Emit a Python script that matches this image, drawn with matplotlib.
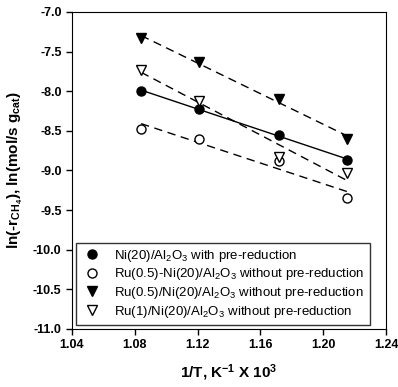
import numpy as np
import matplotlib.pyplot as plt
from matplotlib.lines import Line2D

plt.rcParams['font.family'] = ['Liberation Sans', 'DejaVu Sans']
plt.rcParams['mathtext.fontset'] = 'custom'
plt.rcParams['mathtext.rm'] = 'Liberation Sans'
plt.rcParams['mathtext.it'] = 'Liberation Sans'
plt.rcParams['mathtext.bf'] = 'Liberation Sans:bold'

inv_t = [1.084, 1.121, 1.172, 1.215]

ni_pre = [-8.00, -8.22, -8.55, -8.87]
ru05_ni_mix = [-8.48, -8.60, -8.88, -9.35]
ru05_ni = [-7.33, -7.63, -8.10, -8.60]
ru1_ni = [-7.73, -8.12, -8.83, -9.03]

labels = [
    "Ni(20)/Al$_2$O$_3$ with pre-reduction",
    "Ru(0.5)-Ni(20)/Al$_2$O$_3$ without pre-reduction",
    "Ru(0.5)/Ni(20)/Al$_2$O$_3$ without pre-reduction",
    "Ru(1)/Ni(20)/Al$_2$O$_3$ without pre-reduction",
]

series = [ni_pre, ru05_ni_mix, ru05_ni, ru1_ni]
markers = ['o', 'o', 'v', 'v']
fills = ['black', 'white', 'black', 'white']
styles = ['-', (0, (6, 4)), (0, (6, 4)), (0, (6, 4))]

fig = plt.figure(figsize=(3.98, 3.87), dpi=100)
ax = fig.add_axes([0.181, 0.150, 0.789, 0.819])

x = np.array(inv_t)
handles = []
for y, m, fc, ls, lab in zip(series, markers, fills, styles, labels):
    k, b = np.polyfit(x, y, 1)
    ax.plot(x, k * x + b, color='black', lw=1.0, linestyle=ls)
    ax.plot(x, y, linestyle='none', marker=m, markersize=6.5,
            markerfacecolor=fc, markeredgecolor='black', markeredgewidth=1.0)
    handles.append(Line2D([], [], linestyle='none', marker=m, markersize=6.5,
                          markerfacecolor=fc, markeredgecolor='black'))

ax.set_xlim(1.04, 1.24)
ax.set_ylim(-11.0, -7.0)
ax.set_xticks([1.04, 1.08, 1.12, 1.16, 1.20, 1.24])
ax.set_xticklabels(['1.04', '1.08', '1.12', '1.16', '1.20', '1.24'])
ax.set_yticks(np.arange(-11.0, -6.9, 0.5))
ax.set_yticklabels(['%.1f' % v for v in np.arange(-11.0, -6.9, 0.5)])
ax.tick_params(direction='out', length=4, width=1, labelsize=9)
for lbl in ax.get_xticklabels() + ax.get_yticklabels():
    lbl.set_fontweight('bold')

ax.set_xlabel('1/T, K$^{\\mathbf{-1}}$ X 10$^{\\mathbf{3}}$', fontsize=11, fontweight='bold', labelpad=8)
ax.set_ylabel('ln(-r$_{\\mathbf{CH_4}}$), ln(mol/s g$_{\\mathbf{cat}}$)', fontsize=11, fontweight='bold', labelpad=6)

leg = ax.legend(handles, labels, loc='lower left', fontsize=9.5, frameon=True,
                fancybox=False, edgecolor='black', borderaxespad=0.3,
                handletextpad=0.9, labelspacing=0.2, borderpad=0.4,
                handlelength=1.6)
leg.get_frame().set_linewidth(1.0)

fig.savefig('out.png', dpi=100)
